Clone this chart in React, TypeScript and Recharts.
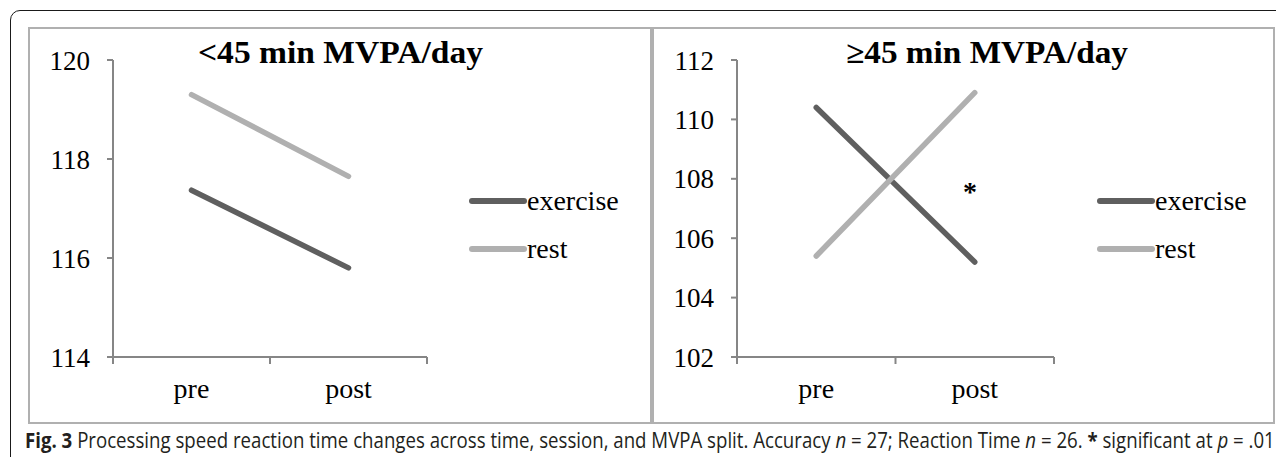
import { LineChart, Line, XAxis, YAxis, Legend, ReferenceDot } from "recharts";

const phases = ["pre", "post"];
const phasePos = [0.5, 1.5];
const xTicks = [0, 0.5, 1, 1.5, 2];

const lowExercise = [117.37, 115.8];
const lowRest = [119.3, 117.65];
const lowTicks = [114, 116, 118, 120];

const highExercise = [110.4, 105.2];
const highRest = [105.4, 110.9];
const highTicks = [102, 104, 106, 108, 110, 112];

const sigMark = { x: 1.47, y: 107.6, text: "*" };

const AXIS = "#868686";
const SERIF = "'Liberation Serif', 'Times New Roman', serif";
const EX_COLOR = "#5f5f5f";
const REST_COLOR = "#b0b0b0";

const lowData = phases.map((p, i) => ({ phase: p, pos: phasePos[i], exercise: lowExercise[i], rest: lowRest[i] }));
const highData = phases.map((p, i) => ({ phase: p, pos: phasePos[i], exercise: highExercise[i], rest: highRest[i] }));

function XTick(props: any) {
  const { x, y, payload } = props;
  const i = phasePos.indexOf(payload.value);
  if (i < 0) {
    return <line x1={x} x2={x} y1={y} y2={y + 7} stroke={AXIS} strokeWidth={2} />;
  }
  return (
    <text x={x} y={y + 41} textAnchor="middle" fontFamily={SERIF} fontSize={28} fill="#000">
      {phases[i]}
    </text>
  );
}

const renderLegend = (props: any) => (
  <div style={{ fontFamily: SERIF, fontSize: 28, color: "#000" }}>
    {props.payload.map((e: any) => (
      <div key={e.value} style={{ display: "flex", alignItems: "center", height: 48 }}>
        <svg width={58} height={8} style={{ display: "block" }}>
          <line x1={3} x2={55} y1={4} y2={4} stroke={e.color} strokeWidth={6} strokeLinecap="round" />
        </svg>
        <span style={{ lineHeight: "normal" }}>{e.value}</span>
      </div>
    ))}
  </div>
);

function Panel(props: any) {
  const { left, width, data, ticks, title, titleX, titleLen, legendLeft, marginRight, sig } = props;
  const height = 397;
  return (
    <div style={{ position: "absolute", left, top: 27, width, height }}>
      <div style={{ position: "absolute", inset: 0, border: "2px solid #b0b0b0", boxSizing: "border-box" }} />
      <div style={{ position: "absolute", left: 0, top: 0 }}>
        <LineChart width={width} height={height} data={data} margin={{ top: 33, right: marginRight, bottom: 27, left: 25 }}>
          <XAxis
            dataKey="pos"
            type="number"
            domain={[0, 2]}
            ticks={xTicks}
            interval={0}
            tickLine={false}
            tickSize={0}
            tickMargin={0}
            height={40}
            stroke={AXIS}
            axisLine={{ stroke: AXIS, strokeWidth: 2 }}
            tick={<XTick />}
          />
          <YAxis
            type="number"
            domain={[ticks[0], ticks[ticks.length - 1]]}
            ticks={ticks}
            interval={0}
            width={60}
            tickSize={6}
            tickMargin={17}
            stroke={AXIS}
            axisLine={{ stroke: AXIS, strokeWidth: 2 }}
            tickLine={{ stroke: AXIS, strokeWidth: 2 }}
            tick={{ fill: "#000", fontSize: 27, fontFamily: SERIF }}
          />
          <Line type="linear" dataKey="exercise" name="exercise" stroke={EX_COLOR} strokeWidth={5.5} strokeLinecap="round" dot={false} isAnimationActive={false} />
          <Line type="linear" dataKey="rest" name="rest" stroke={REST_COLOR} strokeWidth={5.5} strokeLinecap="round" dot={false} isAnimationActive={false} />
          {sig && (
            <ReferenceDot
              x={sig.x}
              y={sig.y}
              r={0}
              fill="none"
              stroke="none"
              label={{ value: sig.text, fill: "#000", fontSize: 28, fontWeight: "bold", fontFamily: SERIF, position: "center" }}
            />
          )}
          <Legend
            layout="vertical"
            align="center"
            verticalAlign="middle"
            content={renderLegend}
            wrapperStyle={{ left: legendLeft, top: 150, width: 200, height: 96 }}
          />
        </LineChart>
      </div>
      <svg width={width} height={60} style={{ position: "absolute", left: 0, top: 0, overflow: "visible" }}>
        <text x={titleX} y={36} fontFamily={SERIF} fontWeight="bold" fontSize={31} fill="#000" textLength={titleLen} lengthAdjust="spacingAndGlyphs">
          {title}
        </text>
      </svg>
    </div>
  );
}

export default function App() {
  return (
    <div style={{ position: "relative", width: 1284, height: 465, margin: -8, overflow: "hidden", background: "#fff" }}>
      <div
        style={{
          position: "absolute",
          left: 10,
          top: 10,
          width: 1300,
          height: 500,
          border: "1.5px solid #1a1a1a",
          borderRadius: 10,
          boxSizing: "border-box",
        }}
      />
      <Panel
        left={28}
        width={624}
        data={lowData}
        ticks={lowTicks}
        title="<45 min MVPA/day"
        titleX={170}
        titleLen={285}
        legendLeft={441}
        marginRight={225}
      />
      <Panel
        left={652}
        width={623}
        data={highData}
        ticks={highTicks}
        title="≥45 min MVPA/day"
        titleX={194}
        titleLen={282}
        legendLeft={445}
        marginRight={221}
        sig={sigMark}
      />
      <div
        style={{
          position: "absolute",
          left: 25,
          top: 428,
          whiteSpace: "nowrap",
          fontFamily: "'Open Sans', 'Noto Sans', sans-serif",
          fontSize: 21,
          lineHeight: "25px",
          color: "#231f20",
          transform: "scaleX(0.888)",
          transformOrigin: "left top",
        }}
      >
        <b>Fig. 3</b> Processing speed reaction time changes across time, session, and MVPA split. Accuracy <i>n</i> = 27; Reaction Time{" "}
        <i>n</i> = 26. <b>*</b> significant at <i>p</i> = .01
      </div>
    </div>
  );
}
